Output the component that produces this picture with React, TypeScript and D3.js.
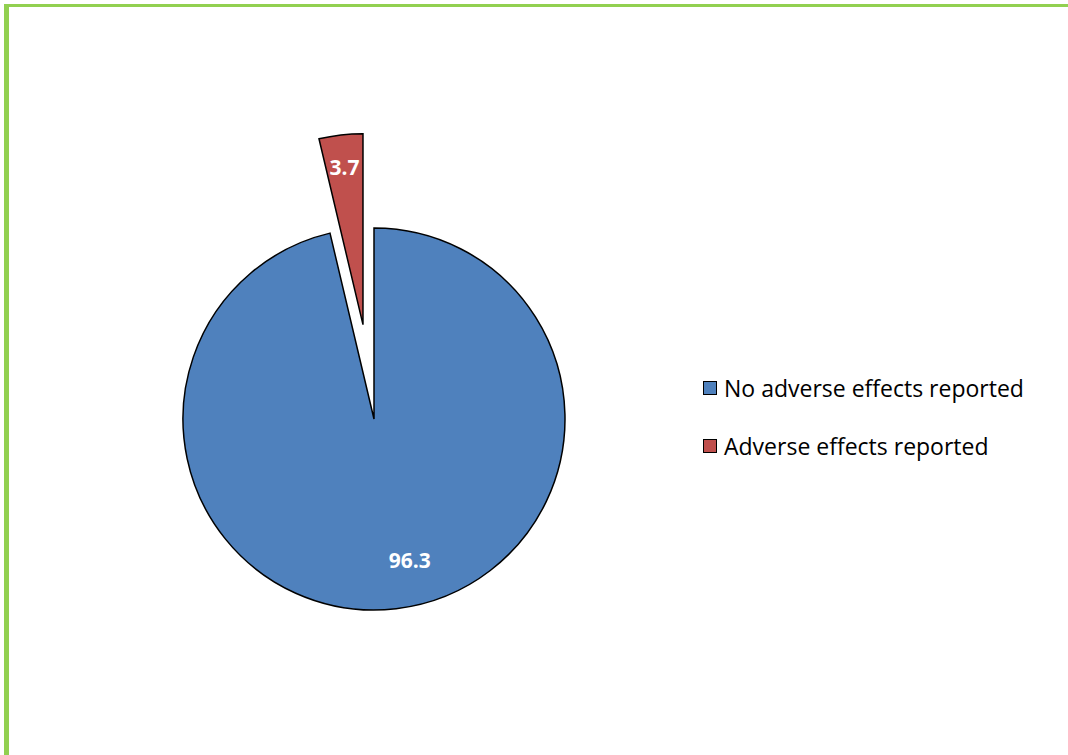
import React from "react";
import * as d3 from "d3";

const categories = ["No adverse effects reported", "Adverse effects reported"];
const values = [96.3, 3.7];
const colors = ["#4F81BD", "#C0504D"];
const explode = [0, 95];

const W = 1068;
const H = 755;
const cx = 374;
const cy = 419;
const R = 191;
// label placement: radius fraction and a small nudge per slice
const labelRadius = [0.76, 0.83];
const labelNudge: [number, number][] = [[19, -3], [0, 0]];

export default function App() {
  const pie = d3.pie<number>().sort(null).value((d) => d);
  const arcs = pie(values);
  const arc = d3.arc<d3.PieArcDatum<number>>().innerRadius(0).outerRadius(R);

  return (
    <svg width={W} height={H} style={{ position: "absolute", left: 0, top: 0 }}>
      <rect x={0} y={0} width={W} height={H} fill="#fff" />
      {/* outer frame */}
      <rect x={4} y={4} width={W + 20} height={3} fill="#92D050" />
      <rect x={4} y={4} width={5} height={H + 20} fill="#92D050" />
      <g transform={`translate(${cx},${cy})`}>
        {arcs.map((a, i) => {
          const mid = (a.startAngle + a.endAngle) / 2;
          const dx = Math.sin(mid) * explode[i];
          const dy = -Math.cos(mid) * explode[i];
          const lr = R * labelRadius[i];
          const lx = Math.sin(mid) * lr + labelNudge[i][0];
          const ly = -Math.cos(mid) * lr + labelNudge[i][1];
          return (
            <g key={i} transform={`translate(${dx},${dy})`}>
              <path d={arc(a) || ""} fill={colors[i]} stroke="#000" strokeWidth={1.5} strokeLinejoin="miter" />
              <text
                x={lx}
                y={ly}
                textAnchor="middle"
                dominantBaseline="central"
                fill="#fff"
                fontFamily="'Open Sans', sans-serif"
                fontWeight="bold"
                fontSize={21}
              >
                {values[i]}
              </text>
            </g>
          );
        })}
      </g>
      <g fontFamily="'Open Sans', sans-serif" fontSize={23} fill="#000">
        {categories.map((c, i) => (
          <g key={c} transform={`translate(703,${381 + i * 58})`}>
            <rect x={0.5} y={0.5} width={13} height={13} fill={colors[i]} stroke="#000" strokeWidth={1} />
            <text x={21} y={15.5}>{c}</text>
          </g>
        ))}
      </g>
    </svg>
  );
}
